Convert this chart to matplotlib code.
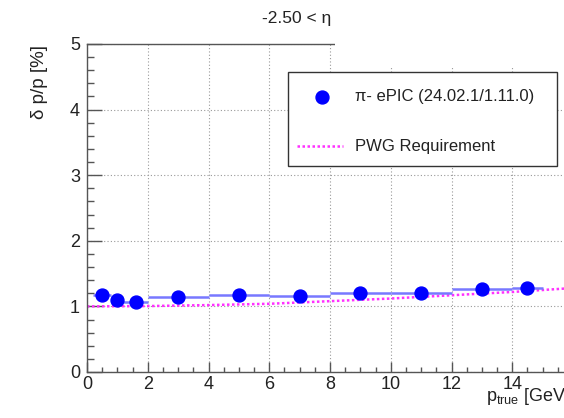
import matplotlib
matplotlib.use("Agg")
import matplotlib.pyplot as plt
from matplotlib.patches import Rectangle
from matplotlib.lines import Line2D
from matplotlib.ticker import MultipleLocator

plt.rcParams['font.family'] = ['Liberation Sans', 'DejaVu Sans']
plt.rcParams['mathtext.fontset'] = 'custom'
plt.rcParams['mathtext.rm'] = 'Liberation Sans'

# momentum bins [GeV/c] and relative momentum resolution [%]
bin_edges = [0.2, 0.8, 1.2, 2.0, 4.0, 6.0, 8.0, 10.0, 12.0, 14.0, 15.0]
resolution = [1.17, 1.10, 1.07, 1.14, 1.18, 1.16, 1.20, 1.21, 1.26, 1.28]

# PWG requirement curve
req_p = [0, 2, 4, 6, 8, 10, 12, 14, 16]
req_val = [1.00, 1.005, 1.02, 1.04, 1.08, 1.12, 1.17, 1.22, 1.28]

title = "-2.50 < η < -1.00"
data_label = "π- ePIC (24.02.1/1.11.0)"
req_label = "PWG Requirement"

W, H = 564, 418
fig = plt.figure(figsize=(W / 100, H / 100), dpi=100)


def fx(px):
    return px / W


def fy(py):
    return 1 - py / H


x0, x1 = 87, 573
y0, y1 = 44, 372
ax = fig.add_axes([fx(x0), fy(y1), (x1 - x0) / W, (y1 - y0) / H])

centers = [(a + b) / 2 for a, b in zip(bin_edges[:-1], bin_edges[1:])]
xlo = [c - a for c, a in zip(centers, bin_edges[:-1])]
xhi = [b - c for c, b in zip(centers, bin_edges[1:])]

blue = '#0000ff'
pink = '#ff30ff'

ax.plot(req_p, req_val, color=pink, lw=1.8, ls=(0, (1, 1)), zorder=2)
ax.errorbar(centers, resolution, xerr=[xlo, xhi], fmt='o', color=blue,
            ecolor='#7878ff', elinewidth=1.8, capsize=0, ms=9.3, zorder=3)

ax.set_xlim(0, 16)
ax.set_ylim(0, 5)
ax.xaxis.set_major_locator(MultipleLocator(2))
ax.xaxis.set_minor_locator(MultipleLocator(0.5))
ax.yaxis.set_major_locator(MultipleLocator(1))
ax.yaxis.set_minor_locator(MultipleLocator(0.2))

axis_col = '#555555'
for s in ax.spines.values():
    s.set_color(axis_col)
    s.set_linewidth(1.0)

ax.tick_params(axis='x', which='major', direction='in', length=7, width=1,
               color=axis_col, labelsize=13, pad=3, labelcolor='#222222')
ax.tick_params(axis='x', which='minor', direction='in', length=3.5, width=1,
               color=axis_col)
ax.tick_params(axis='y', which='major', direction='in', length=10.5, width=1,
               color=axis_col, labelsize=13, pad=5, labelcolor='#222222')
ax.tick_params(axis='y', which='minor', direction='in', length=5.2, width=1,
               color=axis_col)
ax.tick_params(top=False, right=False, which='both')
ax.grid(True, which='major', color='#999999', lw=0.8, ls=(0, (1, 2)))
ax.set_axisbelow(True)

fig.text(fx(262), fy(18), title, ha='left', va='center', fontsize=12.5,
         color='#222222')
fig.text(fx(40), fy(45), "δ p/p [%]", rotation=90, ha='center', va='top',
         fontsize=13.5, color='#222222')
fig.text(fx(486), fy(401), r"p$_{\mathregular{true}}$ [GeV/c]", ha='left',
         va='baseline', fontsize=13, color='#222222')

# blank band over the upper right
fig.patches.append(Rectangle((fx(335), fy(68)), 1 - fx(335) + 0.05,
                             fy(11) - fy(68), transform=fig.transFigure,
                             facecolor='white', edgecolor='none', zorder=10))

# legend box
lx0, ly0, lx1, ly1 = 288, 72, 557, 166
fig.patches.append(Rectangle((fx(lx0), fy(ly1)), fx(lx1) - fx(lx0),
                             fy(ly0) - fy(ly1), transform=fig.transFigure,
                             facecolor='white', edgecolor='#333333', lw=1.0,
                             zorder=11))
fig.lines.append(Line2D([fx(322)], [fy(97)], transform=fig.transFigure,
                        marker='o', ms=9.3, color=blue, ls='none', zorder=12))
fig.lines.append(Line2D([fx(297), fx(343)], [fy(146), fy(146)],
                        transform=fig.transFigure, color=pink, lw=1.8,
                        ls=(0, (1, 1)), zorder=12))
fig.text(fx(355), fy(97), data_label, ha='left', va='center', fontsize=12,
         color='#222222', zorder=12)
fig.text(fx(355), fy(146), req_label, ha='left', va='center', fontsize=12,
         color='#222222', zorder=12)

fig.savefig("out.png", dpi=100)
